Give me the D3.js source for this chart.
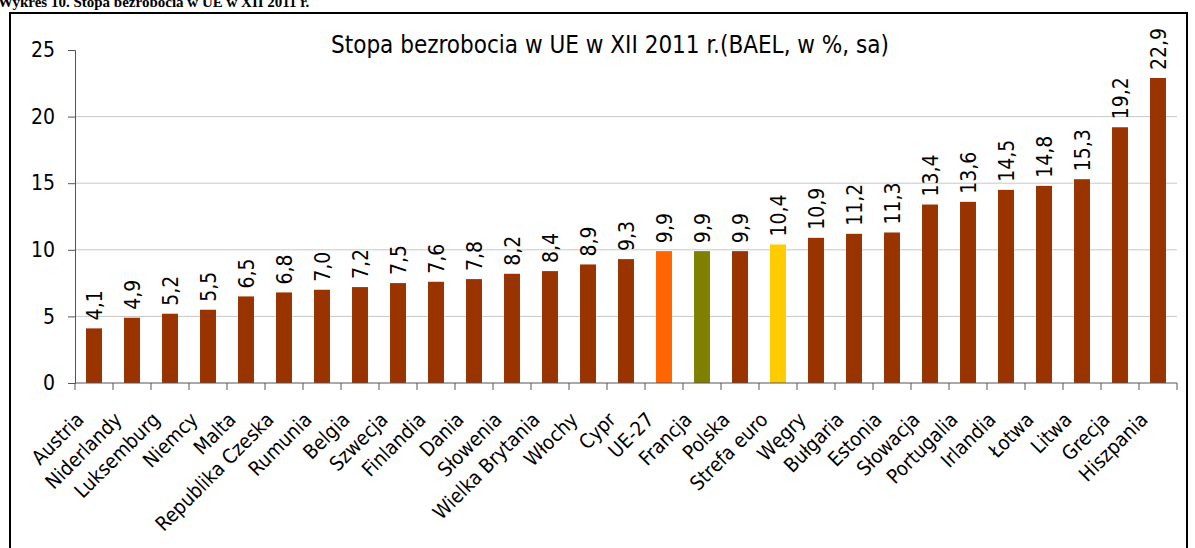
<!DOCTYPE html>
<html lang='pl'>
<head>
    <title>Stopa bezrobocia w UE</title>
    <meta charset='UTF-8'>
    <script src='https://d3js.org/d3.v7.min.js'></script>
    <style>
      body { margin: 0; background: #fff; }
      svg { display: block; }
      text { font-family: 'DejaVu Sans Condensed', 'DejaVu Sans', sans-serif; }
    </style>
</head>
<body>
<svg width='1195' height='548'></svg>

<script>
  // dane
  const countries = ['Austria', 'Niderlandy', 'Luksemburg', 'Niemcy', 'Malta', 'Republika Czeska',
    'Rumunia', 'Belgia', 'Szwecja', 'Finlandia', 'Dania', 'Słowenia', 'Wielka Brytania', 'Włochy',
    'Cypr', 'UE-27', 'Francja', 'Polska', 'Strefa euro', 'Węgry', 'Bułgaria', 'Estonia', 'Słowacja',
    'Portugalia', 'Irlandia', 'Łotwa', 'Litwa', 'Grecja', 'Hiszpania']
  const rates = [4.1, 4.9, 5.2, 5.5, 6.5, 6.8, 7.0, 7.2, 7.5, 7.6, 7.8, 8.2, 8.4, 8.9,
    9.3, 9.9, 9.9, 9.9, 10.4, 10.9, 11.2, 11.3, 13.4, 13.6, 14.5, 14.8, 15.3, 19.2, 22.9]
  const yTicks = [0, 5, 10, 15, 20, 25]

  const highlight = { 'UE-27': '#ff6600', 'Francja': '#808000', 'Strefa euro': '#ffcc00' }
  const baseColor = '#993300'

  const svg = d3.select('svg')
  const m = { left: 75, right: 1177, top: 50, bottom: 383 }

  // ramka i naglowek (w oryginale obciety u gory)
  svg.append('text')
    .attr('x', -2).attr('y', 7)
    .style('font-family', "'Liberation Serif', serif")
    .style('font-weight', 'bold')
    .style('font-size', '15px')
    .text('Wykres 10. Stopa bezrobocia w UE w XII 2011 r.')

  svg.append('rect')
    .attr('x', 10).attr('y', 13)
    .attr('width', 1177).attr('height', 560)
    .attr('fill', 'none').attr('stroke', '#000').attr('stroke-width', 2)

  svg.append('text')
    .attr('x', 610).attr('y', 53)
    .attr('text-anchor', 'middle')
    .style('font-size', '24px')
    .text('Stopa bezrobocia w UE w XII 2011 r.(BAEL, w %, sa)')

  const x = d3.scaleBand().domain(countries).range([m.left, m.right]).paddingInner(0.58).paddingOuter(0.29)
  const y = d3.scaleLinear().domain([0, 25]).range([m.bottom, m.top])

  // linie siatki
  svg.append('g')
    .selectAll('line')
    .data(yTicks.filter(d => d > 0 && d < 25))
    .join('line')
      .attr('x1', m.left).attr('x2', m.right)
      .attr('y1', d => y(d)).attr('y2', d => y(d))
      .attr('stroke', '#c8c8c8').attr('stroke-width', 1)

  // os Y
  const yAxis = svg.append('g')
    .attr('transform', `translate(${m.left},0)`)
    .call(d3.axisLeft(y).tickValues(yTicks).tickSize(7).tickPadding(13).tickFormat(d3.format('d')))
  yAxis.select('.domain').attr('stroke', '#555')
  yAxis.selectAll('.tick line').attr('stroke', '#555')
  yAxis.selectAll('.tick text')
    .style('font-size', '21px')
    .style('font-family', "'DejaVu Sans Condensed', 'DejaVu Sans', sans-serif")
    .attr('fill', '#000')

  // slupki
  svg.append('g')
    .selectAll('rect')
    .data(countries)
    .join('rect')
      .attr('x', d => x(d))
      .attr('width', x.bandwidth())
      .attr('y', (d, i) => y(rates[i]))
      .attr('height', (d, i) => m.bottom - y(rates[i]))
      .attr('fill', d => highlight[d] || baseColor)

  // etykiety wartosci
  const fmt = d3.formatLocale({ decimal: ',', thousands: ' ', grouping: [3], currency: ['', ''] }).format('.1f')
  svg.append('g')
    .selectAll('text')
    .data(countries)
    .join('text')
      .attr('transform', (d, i) => `translate(${x(d) + x.bandwidth() / 2},${y(rates[i]) - 8}) rotate(-90)`)
      .attr('dy', '0.36em')
      .style('font-size', '21px')
      .text((d, i) => fmt(rates[i]))

  // os X
  const step = x.step()
  const xAxis = svg.append('g')
  xAxis.append('line')
    .attr('x1', m.left).attr('x2', m.right)
    .attr('y1', m.bottom).attr('y2', m.bottom)
    .attr('stroke', '#555')
  xAxis.selectAll('line.tk')
    .data(d3.range(countries.length + 1))
    .join('line')
      .attr('class', 'tk')
      .attr('x1', i => m.left + i * step).attr('x2', i => m.left + i * step)
      .attr('y1', m.bottom).attr('y2', m.bottom + 7)
      .attr('stroke', '#555')

  xAxis.selectAll('text')
    .data(countries)
    .join('text')
      .attr('transform', d => `translate(${x(d) + x.bandwidth() / 2 - 9},${m.bottom + 38}) rotate(-45)`)
      .attr('text-anchor', 'end')
      .style('font-size', '20px')
      .text(d => d)
</script>
</body>
</html>
